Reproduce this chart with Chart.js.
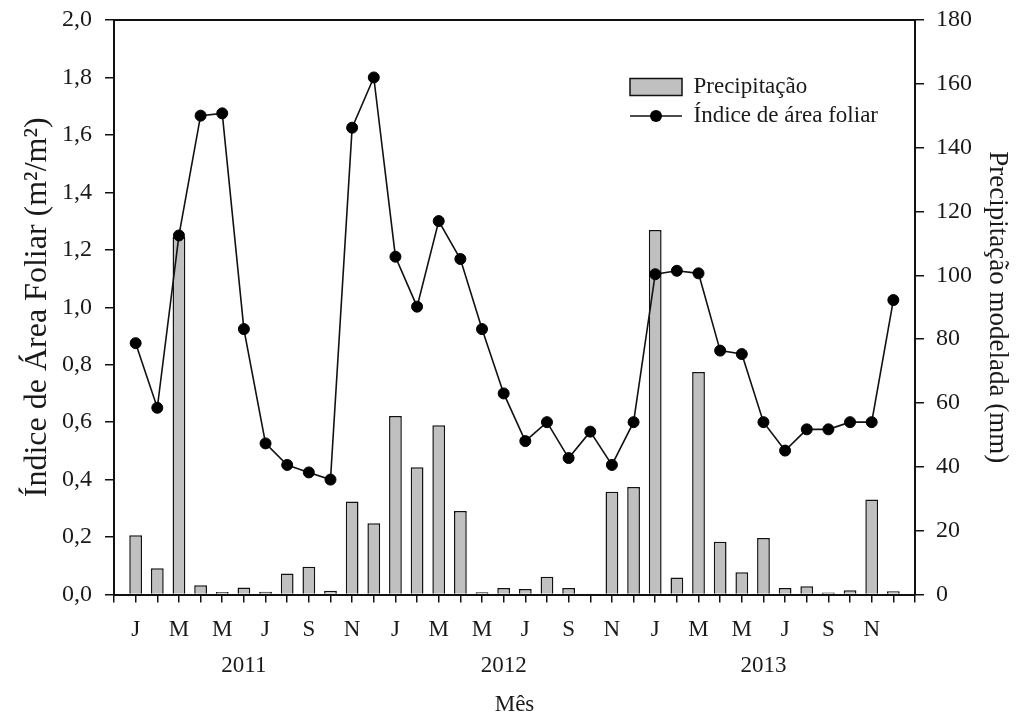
<!DOCTYPE html>
<html>
<head>
<meta charset="utf-8">
<script src="https://cdn.jsdelivr.net/npm/chart.js@4/dist/chart.umd.min.js"></script>
<style>
  html, body { margin: 0; padding: 0; background: #fff; }
  #wrap { width: 1019px; height: 716px; position: relative; }
</style>
</head>
<body>
<div id="wrap"><canvas id="laiChart"></canvas></div>
<script>
// months, Jan 2011 .. Dec 2013
const categories = [
  '2011-01','2011-02','2011-03','2011-04','2011-05','2011-06','2011-07','2011-08','2011-09','2011-10','2011-11','2011-12',
  '2012-01','2012-02','2012-03','2012-04','2012-05','2012-06','2012-07','2012-08','2012-09','2012-10','2012-11','2012-12',
  '2013-01','2013-02','2013-03','2013-04','2013-05','2013-06','2013-07','2013-08','2013-09','2013-10','2013-11','2013-12'
];
const monthTicks = ['J','','M','','M','','J','','S','','N',''];
const yearLabels = ['2011','2012','2013'];

// Precipitação modelada (mm)
const precipitation = [
  18.6, 8.2, 112.1, 2.9, 0.8, 2.2, 0.9, 6.6, 8.7, 1.2, 29.1, 22.3,
  55.9, 39.9, 53.0, 26.2, 0.7, 2.0, 1.7, 5.6, 2.0, 0, 32.2, 33.7,
  114.2, 5.3, 69.7, 16.5, 7.0, 17.7, 2.0, 2.6, 0.6, 1.3, 29.8, 1.0
];
// Índice de área foliar (m²/m²)
const lai = [
  0.875, 0.650, 1.250, 1.667, 1.675, 0.924, 0.526, 0.451, 0.425, 0.400, 1.625, 1.800,
  1.176, 1.002, 1.300, 1.168, 0.924, 0.700, 0.534, 0.600, 0.475, 0.567, 0.451, 0.600,
  1.115, 1.127, 1.118, 0.849, 0.837, 0.600, 0.501, 0.575, 0.575, 0.600, 0.600, 1.025
];

const serif = 'Liberation Serif, Times New Roman, serif';
const ink = '#1a1a1a';

// one empty slot on each side of the months
const labels = ['', ...categories, ''];
const pad = arr => [null, ...arr, null];

// legend icon for the line series: short line with a dot
const lineIcon = document.createElement('canvas');
lineIcon.width = 52;
lineIcon.height = 14;
(function () {
  const c = lineIcon.getContext('2d');
  c.strokeStyle = '#111';
  c.lineWidth = 1.5;
  c.beginPath(); c.moveTo(0, 7); c.lineTo(52, 7); c.stroke();
  c.fillStyle = '#000';
  c.beginPath(); c.arc(26, 7, 6, 0, Math.PI * 2); c.fill();
})();

// put the legend inside the plot, upper right
const placeLegend = {
  id: 'placeLegend',
  afterLayout(chart) {
    const lg = chart.legend;
    const area = chart.chartArea;
    lg.left = area.right - 291;
    lg.top = area.top + 49.5;
    lg.right = area.right;
    lg.bottom = area.top + 200;
    lg.width = lg.right - lg.left;
    lg.height = lg.bottom - lg.top;
  }
};

// fixed axis box sizes so the plot area sits where the original's does
const fitSide = w => s => { s.width = w; s.paddingTop = 0; s.paddingBottom = 0; };

const ctx = document.getElementById('laiChart').getContext('2d');
new Chart(ctx, {
  type: 'bar',
  data: {
    labels: labels,
    datasets: [
      {
        type: 'bar',
        label: 'Precipitação',
        data: pad(precipitation),
        yAxisID: 'y1',
        backgroundColor: '#c0c0c0',
        borderColor: '#111',
        borderWidth: 1.5,
        categoryPercentage: 1,
        barPercentage: 0.59,
        order: 2
      },
      {
        type: 'line',
        label: 'Índice de área foliar',
        data: pad(lai),
        yAxisID: 'y',
        borderColor: '#111',
        borderWidth: 1.6,
        tension: 0,
        pointRadius: 5.5,
        pointBorderWidth: 1,
        pointBackgroundColor: '#000',
        pointBorderColor: '#000',
        order: 1
      }
    ]
  },
  options: {
    responsive: true,
    maintainAspectRatio: false,
    animation: false,
    layout: { padding: { top: 20, left: 0, right: 0, bottom: 0 } },
    plugins: {
      tooltip: { enabled: false },
      legend: {
        position: 'chartArea',
        align: 'start',
        labels: {
          usePointStyle: true,
          pointStyleWidth: 52,
          boxHeight: 17,
          padding: 6,
          color: ink,
          font: { family: serif, size: 23 },
          sort: (a, b) => a.datasetIndex - b.datasetIndex,
          generateLabels(chart) {
            const items = Chart.defaults.plugins.legend.labels.generateLabels(chart);
            items.forEach(it => {
              it.pointStyle = it.datasetIndex === 0 ? 'rect' : lineIcon;
              if (it.datasetIndex === 0) {
                it.fillStyle = '#c0c0c0';
                it.strokeStyle = '#111';
                it.lineWidth = 1.5;
              }
            });
            return items;
          }
        }
      }
    },
    scales: {
      x: {
        type: 'category',
        position: 'bottom',
        offset: false,
        grid: { display: true, offset: false, drawOnChartArea: false, tickLength: 8, color: '#111', lineWidth: 1.5 },
        border: { display: true, color: '#111', width: 2 },
        ticks: {
          autoSkip: false,
          maxRotation: 0,
          padding: 9.5,
          color: ink,
          font: { family: serif, size: 23, lineHeight: '36px' },
          callback: (v, i) => {
            if (i === 0 || i === categories.length + 1) return '';
            const m = (i - 1) % 12;
            const yr = Math.floor((i - 1) / 12);
            return m === 5 ? ['', yearLabels[yr]] : monthTicks[m];
          }
        },
        title: {
          display: true,
          text: 'Mês',
          color: ink,
          padding: { top: 0, bottom: 0 },
          font: { family: serif, size: 23, lineHeight: 1 }
        },
        afterFit: s => { s.height = 121.5; s.paddingLeft = 0; s.paddingRight = 0; }
      },
      xTop: {
        type: 'category',
        position: 'top',
        offset: false,
        grid: { display: false },
        ticks: { display: false },
        border: { display: true, color: '#111', width: 2 },
        afterFit: s => { s.height = 0; s.paddingLeft = 0; s.paddingRight = 0; }
      },
      y: {
        type: 'linear',
        position: 'left',
        min: 0,
        max: 2,
        ticks: {
          stepSize: 0.2,
          padding: 13,
          color: ink,
          font: { family: serif, size: 24 },
          callback: v => Number(v).toFixed(1).replace('.', ',')
        },
        grid: { display: true, drawOnChartArea: false, tickLength: 9, color: '#111', lineWidth: 1.5 },
        border: { display: true, color: '#111', width: 2 },
        title: {
          display: true,
          text: 'Índice de Área Foliar (m²/m²)',
          color: ink,
          padding: { top: 22, bottom: 0 },
          font: { family: serif, size: 32, lineHeight: 1 }
        },
        afterFit: fitSide(114)
      },
      y1: {
        type: 'linear',
        position: 'right',
        min: 0,
        max: 180,
        ticks: {
          stepSize: 20,
          padding: 12,
          color: ink,
          font: { family: serif, size: 24 }
        },
        grid: { display: true, drawOnChartArea: false, tickLength: 9, color: '#111', lineWidth: 1.5 },
        border: { display: true, color: '#111', width: 2 },
        title: {
          display: true,
          text: 'Precipitação modelada (mm)',
          color: ink,
          padding: { top: 8, bottom: 0 },
          font: { family: serif, size: 27, lineHeight: 1 }
        },
        afterFit: fitSide(104)
      }
    }
  },
  plugins: [placeLegend]
});
</script>
</body>
</html>
